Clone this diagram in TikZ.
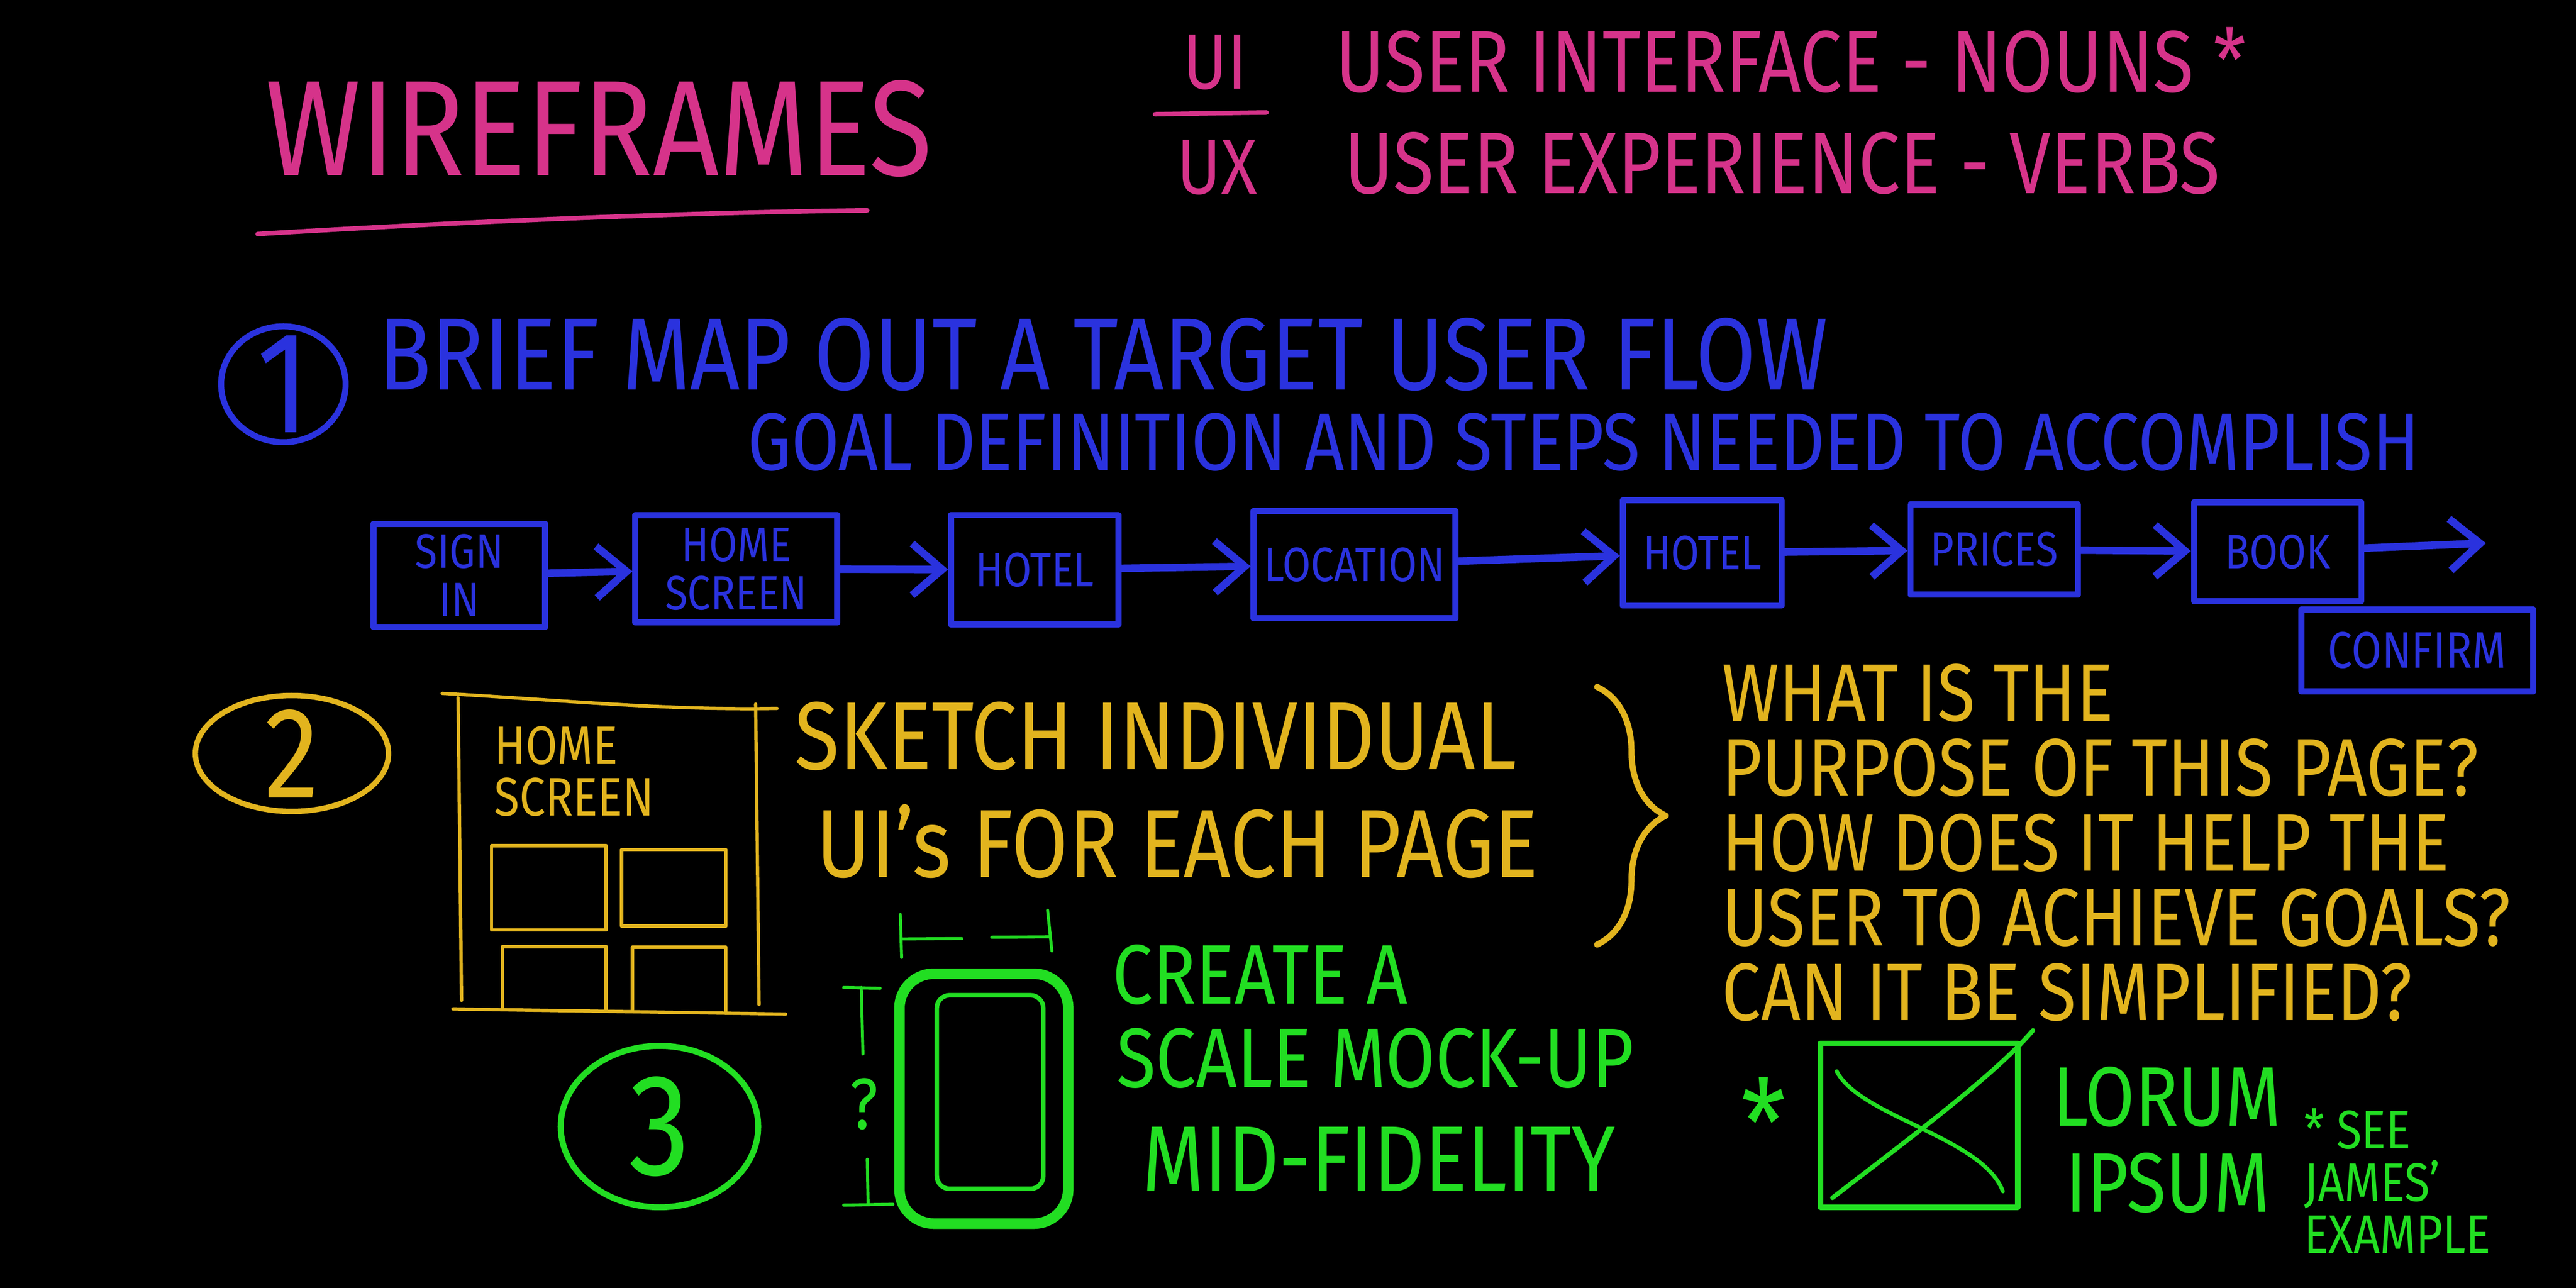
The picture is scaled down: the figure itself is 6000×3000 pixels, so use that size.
\documentclass[tikz,border=0pt]{standalone}
\usepackage{fontspec}
\setmainfont{Fira Sans}[FakeStretch=0.85]
\usetikzlibrary{shapes.geometric, arrows.meta, decorations.pathreplacing}
\definecolor{chalkpink}{RGB}{214,51,138}
\definecolor{chalkblue}{RGB}{42,50,222}
\definecolor{chalkyellow}{RGB}{226,180,30}
\definecolor{chalkgreen}{RGB}{34,222,34}
\newcommand\chalk[1]{\fontsize{#1}{#1}\selectfont}
\tikzstyle{chalktext}=[inner sep=0,anchor=west]
\tikzstyle{flowbox}=[rectangle, draw=chalkblue, line width=2pt, text=chalkblue, align=center, font=\chalk{16pt}, inner sep=0]
\tikzstyle{flowarrow}=[chalkblue, line width=2.5pt, -{Straight Barb[length=3.5mm,width=6mm]}]

\begin{document}
\begin{tikzpicture}[x=0.05mm,y=-0.05mm,line cap=round,line join=round]
\path[use as bounding box,fill=black] (0,0) rectangle (6000,3000);

\node[chalktext,anchor=center,text=chalkpink,font=\chalk{45pt}] (title) at (1395,300) {WIREFRAMES};
\draw[chalkpink,line width=1.5pt] (600,545) .. controls (1100,515) and (1600,495) .. (2020,490);
\node[chalktext,anchor=center,text=chalkpink,font=\chalk{26pt}] (ui) at (2830,145) {UI};
\node[chalktext,anchor=center,text=chalkpink,font=\chalk{26pt}] (ux) at (2835,390) {UX};
\draw[chalkpink,line width=1.5pt] (2690,266) -- (2950,262);
\node[chalktext,text=chalkpink,font=\chalk{29pt}] (nouns) at (3110,140) {USER INTERFACE - NOUNS *};
\node[chalktext,text=chalkpink,font=\chalk{29pt}] (verbs) at (3130,380) {USER EXPERIENCE - VERBS};

\draw[chalkblue,line width=2pt] (660,895) ellipse [x radius=145,y radius=135];
\node[text=chalkblue,font=\chalk{48pt},inner sep=0] (one) at (660,895) {1};
\node[chalktext,text=chalkblue,font=\chalk{34pt}] (brief) at (880,825) {BRIEF MAP OUT A TARGET USER FLOW};
\node[chalktext,text=chalkblue,font=\chalk{27pt}] (goal) at (1740,1030) {GOAL DEFINITION AND STEPS NEEDED TO ACCOMPLISH};

\node[flowbox,minimum width=20mm,minimum height=12mm] (signin) at (1070,1340) {SIGN\\IN};
\node[flowbox,minimum width=23.5mm,minimum height=12.5mm] (home) at (1715,1325) {HOME\\SCREEN};
\node[flowbox,minimum width=19.5mm,minimum height=12.75mm] (hotelA) at (2410,1327) {HOTEL};
\node[flowbox,minimum width=23.5mm,minimum height=12.5mm] (loc) at (3155,1315) {LOCATION};
\node[flowbox,minimum width=18.5mm,minimum height=12.25mm] (hotelB) at (3965,1288) {HOTEL};
\node[flowbox,minimum width=19.5mm,minimum height=10.5mm] (prices) at (4645,1280) {PRICES};
\node[flowbox,minimum width=19.5mm,minimum height=11.5mm] (book) at (5305,1285) {BOOK};
\node[flowbox,minimum width=27mm,minimum height=9.5mm,font=\chalk{17pt}] (confirm) at (5630,1515) {CONFIRM};
\coordinate (flowend) at (5790,1265);
\foreach \a/\b in {signin/home,home/hotelA,hotelA/loc,loc/hotelB,hotelB/prices,prices/book,book/flowend}
  \draw[flowarrow] (\a) -- (\b);

\draw[chalkyellow,line width=1.8pt] (680,1755) ellipse [x radius=225,y radius=135];
\node[text=chalkyellow,font=\chalk{43pt},inner sep=0] (two) at (680,1755) {2};
\begin{scope}[chalkyellow,line width=1.1pt]
\draw (1030,1615) .. controls (1300,1630) and (1550,1655) .. (1810,1650);
\draw (1067,1625) -- (1075,2330);
\draw (1760,1640) -- (1768,2340);
\draw (1055,2350) -- (1830,2362);
\draw (1145,1970) rectangle (1412,2166);
\draw (1448,1979) rectangle (1691,2157);
\draw (1170,2350) |- (1412,2205) -- (1412,2352);
\draw (1473,2352) |- (1691,2206) -- (1691,2356);
\end{scope}
\node[chalktext,anchor=north west,align=left,text=chalkyellow,font={\fontsize{18pt}{17pt}\selectfont}] (homelabel) at (1150,1690) {HOME\\SCREEN};
\node[chalktext,text=chalkyellow,font=\chalk{32pt}] (sketch) at (1850,1715) {SKETCH INDIVIDUAL};
\node[chalktext,text=chalkyellow,font=\chalk{32pt}] (uis) at (1900,1960) {UI's FOR EACH PAGE};
\draw[chalkyellow,line width=2pt,decorate,decoration={brace,amplitude=8mm}] (3720,1600) -- (3720,2200);
\node[chalktext,anchor=north west,align=left,text=chalkyellow,font={\fontsize{27pt}{24.8pt}\selectfont}] (questions) at (4010,1545) {WHAT IS THE\\PURPOSE OF THIS PAGE?\\HOW DOES IT HELP THE\\USER TO ACHIEVE GOALS?\\CAN IT BE SIMPLIFIED?};

\draw[chalkgreen,line width=2pt] (1536,2624) ellipse [x radius=230,y radius=188];
\node[text=chalkgreen,font=\chalk{48pt},inner sep=0] (three) at (1536,2624) {3};
\draw[chalkgreen,line width=3.5pt,rounded corners=4mm] (2095,2268) rectangle (2488,2850);
\draw[chalkgreen,line width=1.5pt,rounded corners=1.5mm] (2182,2318) rectangle (2430,2769);
\draw[chalkgreen,line width=1pt] (2097,2130) -- (2100,2230) (2100,2187) -- (2240,2186) (2310,2183) -- (2445,2182) (2440,2120) -- (2450,2215);
\draw[chalkgreen,line width=1pt] (1965,2300) -- (2050,2302) (2006,2300) -- (2010,2455) (2020,2700) -- (2022,2805) (1965,2807) -- (2080,2805);
\node[text=chalkgreen,font=\chalk{24pt},inner sep=0] (scaleq) at (2012,2572) {?};
\node[chalktext,text=chalkgreen,font=\chalk{28pt}] (create) at (2590,2270) {CREATE A};
\node[chalktext,text=chalkgreen,font=\chalk{28pt}] (scale) at (2600,2465) {SCALE MOCK-UP};
\node[chalktext,text=chalkgreen,font=\chalk{31pt}] (midfi) at (2660,2700) {MID-FIDELITY};

\node[text=chalkgreen,font=\chalk{40pt},inner sep=0] (star) at (4108,2614) {*};
\draw[chalkgreen,line width=1.8pt] (4240,2430) rectangle (4700,2812);
\draw[chalkgreen,line width=1.5pt] (4268,2790) .. controls (4450,2650) and (4650,2500) .. (4735,2400);
\draw[chalkgreen,line width=1.3pt] (4278,2495) .. controls (4330,2600) and (4620,2650) .. (4665,2775);
\node[chalktext,text=chalkgreen,font=\chalk{28pt}] (lorum) at (4780,2555) {LORUM};
\node[chalktext,text=chalkgreen,font=\chalk{28pt}] (ipsum) at (4810,2755) {IPSUM};
\node[chalktext,anchor=north west,align=left,text=chalkgreen,font={\fontsize{18pt}{17.4pt}\selectfont}] (seenote) at (5365,2580) {* SEE\\JAMES'\\EXAMPLE};
\end{tikzpicture}
\end{document}
